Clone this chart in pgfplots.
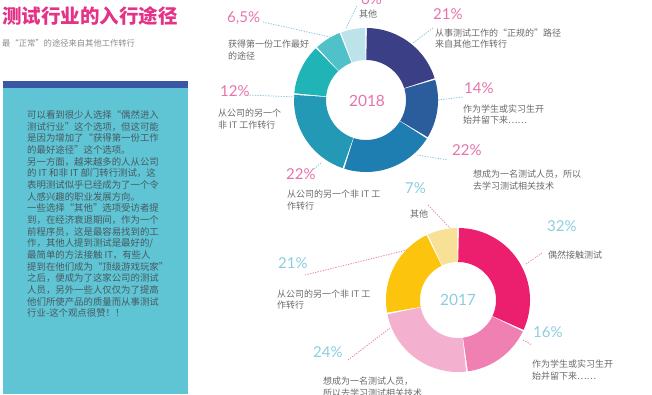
\documentclass[border=0pt]{standalone}
\usepackage{pgfplots}
\pgfplotsset{compat=1.18}
\usepackage{fontspec}
\setmainfont{Noto Sans CJK SC}
\newfontfamily\numfont{Lato}

\definecolor{titlepink}{RGB}{228,50,135}
\definecolor{pctpink}{RGB}{230,115,172}
\definecolor{pctblue}{RGB}{140,205,222}
\definecolor{lblgray}{RGB}{105,105,105}
\definecolor{subgray}{RGB}{140,140,140}
\definecolor{panelteal}{RGB}{95,197,212}
\definecolor{panelblue}{RGB}{60,86,166}
\definecolor{paneltext}{RGB}{72,88,96}
\definecolor{leadblue}{RGB}{130,200,215}
\definecolor{leadpink}{RGB}{235,130,172}
% 2018
\definecolor{da}{RGB}{59,63,133}
\definecolor{db}{RGB}{43,92,156}
\definecolor{dc}{RGB}{30,126,178}
\definecolor{dd}{RGB}{36,153,181}
\definecolor{de}{RGB}{32,180,182}
\definecolor{df}{RGB}{80,193,201}
\definecolor{dg}{RGB}{189,227,234}
% 2017
\definecolor{pa}{RGB}{236,30,110}
\definecolor{pb}{RGB}{240,127,178}
\definecolor{pc}{RGB}{244,176,207}
\definecolor{pd}{RGB}{252,196,13}
\definecolor{pe}{RGB}{248,225,150}

% #1 cx, #2 cy, #3 r inner, #4 r outer, #5 total, #6 list value/colour
\newcommand\donut[6]{%
  \pgfmathsetmacro\rmid{(#3+#4)/2}%
  \pgfmathsetmacro\lw{#4-#3}%
  \gdef\acc{0}%
  \foreach \v/\c in {#6}{%
    \pgfmathsetmacro\sa{-90+(\acc/#5)*360+0.6}%
    \pgfmathsetmacro\na{\acc+\v}%
    \xdef\acc{\na}%
    \pgfmathsetmacro\ea{-90+(\acc/#5)*360-0.6}%
    \edef\cmd{\noexpand\addplot[draw=\c,line width=\lw pt,line cap=butt,domain=\sa:\ea,samples=80,variable=\noexpand\t,forget plot,no markers] ({#1+\rmid*cos(\noexpand\t)},{#2+\rmid*sin(\noexpand\t)});}%
    \cmd
  }%
}
\newcommand\lbl[3]{\node[anchor=west,inner sep=0pt,text=lblgray,font=\fontsize{9}{11}\selectfont] at (axis cs:#1,#2) {#3};}
\newcommand\pct[4]{\node[anchor=west,inner sep=0pt,text=#3,font=\numfont\fontsize{15}{16}\selectfont] at (axis cs:#1,#2) {#4};}

\begin{document}
\begin{tikzpicture}
\begin{axis}[x=1pt,y=1pt,xmin=0,xmax=652,ymin=0,ymax=394,y dir=reverse,
  hide axis,clip=false,scale only axis]

% left panel
\fill[panelteal] (axis cs:3,88) rectangle (axis cs:188,394);
\fill[panelblue] (axis cs:3,81) rectangle (axis cs:188,88);

\node[anchor=west,inner sep=0pt,text=titlepink,font=\bfseries\fontsize{19.5}{21}\selectfont] at (axis cs:2,15.5) {测试行业的入行途径};
\node[anchor=west,inner sep=0pt,text=subgray,font=\fontsize{8.3}{10}\selectfont] at (axis cs:2,43) {最“正常”的途径来自其他工作转行};

\node[anchor=north west,inner sep=0pt,text=paneltext,align=left,font=\fontsize{9.4}{11.65}\selectfont] at (axis cs:27,110.5) {%
可以看到很少人选择“偶然进入\\
测试行业”这个选项，但这可能\\
是因为增加了“获得第一份工作\\
的最好途径”这个选项。\\
另一方面，越来越多的人从公司\\
的 IT 和非 IT 部门转行测试，这\\
表明测试似乎已经成为了一个令\\
人感兴趣的职业发展方向。\\
一些选择“其他”选项受访者提\\
到，在经济衰退期间，作为一个\\
前程序员，这是最容易找到的工\\
作，其他人提到测试是最好的/\\
最简单的方法接触 IT，有些人\\
提到在他们成为“顶级游戏玩家”\\
之后，便成为了这家公司的测试\\
人员，另外一些人仅仅为了提高\\
他们所使产品的质量而从事测试\\
行业-这个观点很赞！！};

% donuts
\donut{366}{100}{40}{72}{103.5}{21/da,14/db,22/dc,22/dd,12/de,6.5/df,6/dg}
\donut{458}{300}{38}{72}{100}{32/pa,16/pb,24/pc,21/pd,7/pe}

% leader lines 2018
\addplot[leadblue,line width=0.8pt,dash pattern=on 1.3pt off 1.3pt,forget plot] coordinates {(357,6) (346,28)};
\addplot[leadblue,line width=0.8pt,dash pattern=on 1.3pt off 1.3pt,forget plot] coordinates {(263,22) (330,37)};
\addplot[leadblue,line width=0.8pt,dash pattern=on 1.3pt off 1.3pt,forget plot] coordinates {(247,95) (297,97)};
\addplot[leadblue,line width=0.8pt,dash pattern=on 1.3pt off 1.3pt,forget plot] coordinates {(314,169) (322,162)};
\addplot[leadblue,line width=0.8pt,dash pattern=on 1.3pt off 1.3pt,forget plot] coordinates {(433,28) (413,43)};
\addplot[leadblue,line width=0.8pt,dash pattern=on 1.3pt off 1.3pt,forget plot] coordinates {(438,100) (463,97)};
\addplot[leadblue,line width=0.8pt,dash pattern=on 1.3pt off 1.3pt,forget plot] coordinates {(417,155) (448,160)};
% leader lines 2017
\addplot[leadpink,line width=0.8pt,dash pattern=on 1.3pt off 1.3pt,forget plot] coordinates {(428,205) (450,228)};
\addplot[leadpink,line width=0.8pt,dash pattern=on 1.3pt off 1.3pt,forget plot] coordinates {(526,264) (542,253)};
\addplot[leadpink,line width=0.8pt,dash pattern=on 1.3pt off 1.3pt,forget plot] coordinates {(523,340) (532,345)};
\addplot[leadpink,line width=0.8pt,dash pattern=on 1.3pt off 1.3pt,forget plot] coordinates {(348,360) (390,328)};
\addplot[leadpink,line width=0.8pt,dash pattern=on 1.3pt off 1.3pt,forget plot] coordinates {(305,275) (407,250)};

% centre years
\node[text=pctpink,font=\numfont\fontsize{15.5}{16}\selectfont,inner sep=0pt] at (axis cs:367,101) {2018};
\node[text=pctblue,font=\numfont\fontsize{15.5}{16}\selectfont,inner sep=0pt] at (axis cs:458,300) {2017};

% 2018 labels
\pct{361}{-1}{pctpink}{6\%}
\lbl{359}{14.5}{其他}
\pct{227}{18}{pctpink}{6,5\%}
\lbl{228}{44}{获得第一份工作最好}
\lbl{228}{56}{的途径}
\pct{220}{91}{pctpink}{12\%}
\lbl{218}{113.5}{从公司的另一个}
\lbl{218}{125}{非 IT 工作转行}
\pct{286}{174}{pctpink}{22\%}
\lbl{287}{194}{从公司的另一个非 IT 工}
\lbl{287}{206}{作转行}
\pct{433}{14}{pctpink}{21\%}
\lbl{435}{33}{从事测试工作的“正规的”路径}
\lbl{435}{44}{来自其他工作转行}
\pct{464}{88}{pctpink}{14\%}
\lbl{463}{109}{作为学生或实习生开}
\lbl{463}{120}{始并留下来……}
\pct{452}{150}{pctpink}{22\%}
\lbl{473}{174}{想成为一名测试人员，所以}
\lbl{473}{186}{去学习测试相关技术}

% 2017 labels
\pct{405}{188}{pctblue}{7\%}
\lbl{410}{214}{其他}
\pct{547}{226}{pctblue}{32\%}
\lbl{548}{255}{偶然接触测试}
\pct{533}{332}{pctblue}{16\%}
\lbl{532}{364}{作为学生或实习生开}
\lbl{532}{376}{始并留下来……}
\pct{313}{352}{pctblue}{24\%}
\lbl{323}{381}{想成为一名测试人员，}
\lbl{323}{393}{所以去学习测试相关技术}
\pct{278}{263}{pctblue}{21\%}
\lbl{277}{294}{从公司的另一个非 IT 工}
\lbl{277}{305}{作转行}

\end{axis}
\pgfresetboundingbox
\path (current axis.south west) rectangle (current axis.north east);
\end{tikzpicture}
\end{document}
